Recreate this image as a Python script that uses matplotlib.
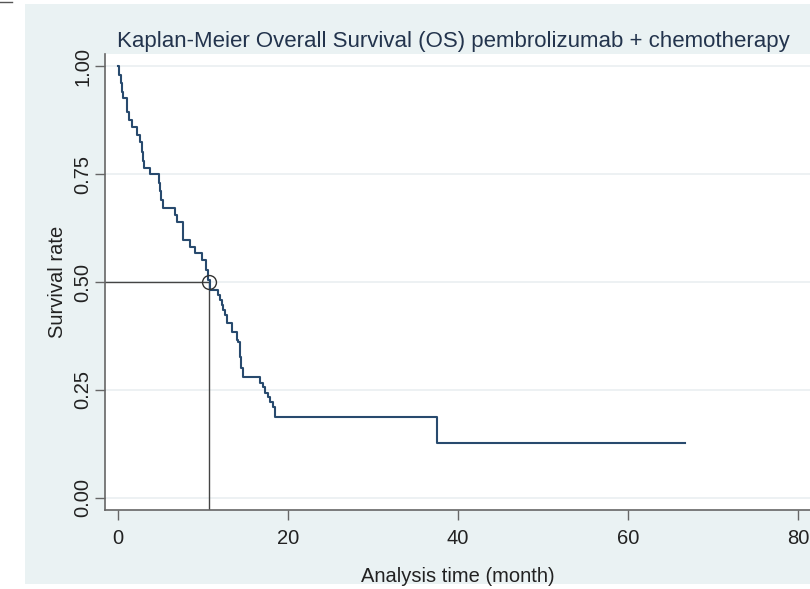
import numpy as np
import matplotlib.pyplot as plt
from matplotlib.patches import Rectangle

plt.rcParams['font.family'] = ['Liberation Sans', 'DejaVu Sans']

# Kaplan-Meier step values (months, survival)
times = [0, 0.1, 0.3, 0.5, 0.6, 1.0, 1.3, 1.6, 2.2, 2.6, 2.8, 2.9, 3.0, 3.8,
         4.85, 4.95, 5.1, 5.3, 6.7, 6.9, 7.7, 8.5, 9.0, 9.85, 10.4, 10.6,
         10.8, 11.8, 12.0, 12.2, 12.4, 12.6, 12.8, 13.4, 13.95, 14.15, 14.35,
         14.5, 14.7, 16.7, 17.1, 17.3, 17.6, 17.9, 18.2, 18.5, 37.5, 66.7]
surv = [1.0, 0.98, 0.96, 0.94, 0.926, 0.894, 0.875, 0.859, 0.84, 0.825, 0.80,
        0.78, 0.764, 0.75, 0.73, 0.71, 0.69, 0.671, 0.655, 0.64, 0.597, 0.582,
        0.567, 0.551, 0.528, 0.505, 0.481, 0.470, 0.458, 0.447, 0.435, 0.424,
        0.404, 0.385, 0.366, 0.362, 0.327, 0.30, 0.281, 0.266, 0.258, 0.243,
        0.234, 0.223, 0.211, 0.188, 0.127, 0.127]

median_time = 10.7
median_surv = 0.5

xticks = [0, 20, 40, 60, 80]
yticks = [0.0, 0.25, 0.5, 0.75, 1.0]
ytick_labels = ['0.00', '0.25', '0.50', '0.75', '1.00']

title = 'Kaplan-Meier Overall Survival (OS) pembrolizumab + chemotherapy'

W, H = 810, 589
fig = plt.figure(figsize=(W / 100, H / 100), dpi=100, facecolor='white')

# stata-like light blue graph region, drawn on a background axes
bg = fig.add_axes([0, 0, 1, 1], zorder=0)
bg.set_xlim(0, W)
bg.set_ylim(H, 0)
bg.axis('off')
bg.add_patch(Rectangle((25, 4), W - 25, 580, facecolor='#eaf2f3', edgecolor='none'))
bg.plot([0, 12], [2, 2], color='#555555', lw=1)

ax = fig.add_axes([105 / W, 1 - 510 / H, 1 - 105 / W, (510 - 54) / H], zorder=1)
ax.set_facecolor('white')

xmin, xmax = -1.53, 81.4
ymin, ymax = -0.028, 1.028
ax.set_xlim(xmin, xmax)
ax.set_ylim(ymin, ymax)

for y in yticks:
    ax.axhline(y, color='#eaeff1', lw=1.2, zorder=1)

ax.step(times, surv, where='post', color='#284a6e', lw=1.5, zorder=3)

# median lines
ax.plot([xmin, median_time], [median_surv, median_surv], color='#444444', lw=1, zorder=2)
ax.plot([median_time, median_time], [median_surv, ymin], color='#444444', lw=1, zorder=2)
ax.plot(median_time, median_surv, 'o', ms=10, mfc='none', mec='#333333', mew=1, zorder=4)

for side in ['top', 'right']:
    ax.spines[side].set_visible(False)
for side in ['left', 'bottom']:
    ax.spines[side].set_color('#666666')
    ax.spines[side].set_linewidth(1.2)

ax.set_xticks(xticks)
ax.set_yticks(yticks)
ax.set_yticklabels(ytick_labels, rotation=90, va='center')
ax.tick_params(axis='both', direction='out', length=7, width=1, color='#666666',
               labelsize=14.5, labelcolor='#222222')
ax.tick_params(axis='y', pad=2)
ax.tick_params(axis='x', pad=7)

ax.set_xlabel('Analysis time (month)', fontsize=14.5, color='#222222', labelpad=13)
ax.set_ylabel('Survival rate', fontsize=14.5, color='#222222', labelpad=5)

fig.text(117 / W, 1 - 42 / H, title, ha='left', va='center', fontsize=16,
         color='#23344d', zorder=2)

fig.savefig('out.png', dpi=100, facecolor='white')
